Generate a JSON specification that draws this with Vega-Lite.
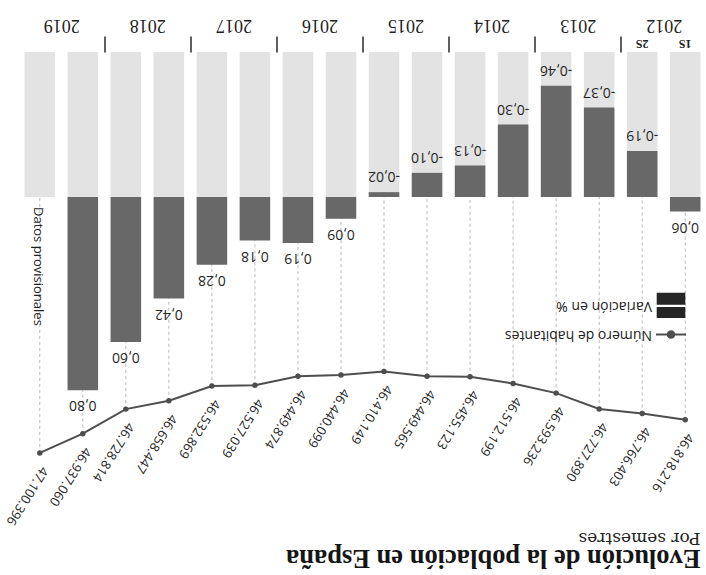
{
  "$schema": "https://vega.github.io/schema/vega-lite/v6.json",
  "width": 676,
  "height": 410,
  "autosize": {"type": "none"},
  "padding": {"left": 24.5, "top": 52, "right": 5.5, "bottom": 113},
  "background": "white",
  "config": {
    "view": {"stroke": null},
    "locale": {"number": {"decimal": ",", "thousands": ".", "grouping": [3], "currency": ["", " €"], "minus": "-"}}
  },
  "title": {
    "text": "Evolución de la población en España",
    "subtitle": "Por semestres",
    "orient": "bottom",
    "anchor": "end",
    "frame": "group",
    "align": "left",
    "angle": 180,
    "offset": 44,
    "font": "Liberation Serif",
    "fontSize": 26.5,
    "fontWeight": "bold",
    "color": "#151515",
    "subtitleFont": "DejaVu Serif",
    "subtitleFontSize": 17,
    "subtitleColor": "#222222",
    "subtitlePadding": -52
  },
  "data": {
    "values": [
      {"sem": "2012-1S", "half": "1S", "pob": 46818216, "var": 0.06, "nota": null},
      {"sem": "2012-2S", "half": "2S", "pob": 46766403, "var": -0.19, "nota": null},
      {"sem": "2013-1S", "half": "1S", "pob": 46727890, "var": -0.37, "nota": null},
      {"sem": "2013-2S", "half": "2S", "pob": 46593236, "var": -0.46, "nota": null},
      {"sem": "2014-1S", "half": "1S", "pob": 46512199, "var": -0.30, "nota": null},
      {"sem": "2014-2S", "half": "2S", "pob": 46455123, "var": -0.13, "nota": null},
      {"sem": "2015-1S", "half": "1S", "pob": 46449565, "var": -0.10, "nota": null},
      {"sem": "2015-2S", "half": "2S", "pob": 46410149, "var": -0.02, "nota": null},
      {"sem": "2016-1S", "half": "1S", "pob": 46440099, "var": 0.09, "nota": null},
      {"sem": "2016-2S", "half": "2S", "pob": 46449874, "var": 0.19, "nota": null},
      {"sem": "2017-1S", "half": "1S", "pob": 46527039, "var": 0.18, "nota": null},
      {"sem": "2017-2S", "half": "2S", "pob": 46532869, "var": 0.28, "nota": null},
      {"sem": "2018-1S", "half": "1S", "pob": 46658447, "var": 0.42, "nota": null},
      {"sem": "2018-2S", "half": "2S", "pob": 46728814, "var": 0.60, "nota": null},
      {"sem": "2019-1S", "half": "1S", "pob": 46937060, "var": 0.80, "nota": null},
      {"sem": "2019-2S", "half": "2S", "pob": 47100396, "var": null, "nota": "Datos provisionales"}
    ]
  },
  "encoding": {
    "x": {
      "field": "sem",
      "type": "nominal",
      "scale": {"type": "band", "reverse": true, "paddingInner": 0.29, "paddingOuter": 0},
      "axis": {
        "orient": "top",
        "title": null,
        "domain": false,
        "grid": false,
        "labelAngle": 180,
        "labelAlign": "center",
        "labelBaseline": "top",
        "labelFont": "Liberation Serif",
        "labelFontSize": 18,
        "labelColor": "#1e1e1e",
        "labelPadding": 3,
        "labelOverlap": false,
        "labelExpr": "indexof(datum.value, '2S') > 0 ? slice(datum.value, 0, 4) : ''",
        "tickOffset": -21.5,
        "labelOffset": 43,
        "tickSize": 16,
        "tickWidth": 1.5,
        "tickColor": "#2a2a2a",
        "tickOpacity": {"condition": {"test": "indexof(datum.value, '1S') > 0 || datum.value === '2019-2S'", "value": 0}, "value": 1}
      }
    }
  },
  "layer": [
    {
      "encoding": {
        "y": {"field": "pob", "type": "quantitative", "scale": {"domain": [43702400, 47177000], "reverse": true, "zero": false}, "axis": null}
      },
      "layer": [
        {
          "mark": {"type": "rule", "strokeDash": [3, 3], "color": "#b8b8b8", "strokeWidth": 1},
          "encoding": {"y2": {"datum": 43702400}}
        }
      ]
    },
    {
      "encoding": {
        "y": {"datum": -0.6, "type": "quantitative", "scale": {"domain": [-0.6, 1.0964], "reverse": true}, "axis": null}
      },
      "layer": [
        {
          "mark": {"type": "bar", "color": "#e3e3e3"},
          "encoding": {"y2": {"datum": 0}}
        },
        {
          "transform": [{"filter": "datum.sem === '2012-1S' || datum.sem === '2012-2S'"}],
          "mark": {"type": "text", "angle": 180, "baseline": "top", "align": "center", "dy": 3, "font": "Liberation Serif", "fontSize": 12, "fontWeight": "bold", "color": "#1e1e1e"},
          "encoding": {"text": {"field": "half", "type": "nominal"}}
        },
        {
          "transform": [{"filter": "datum.nota != null"}],
          "mark": {"type": "text", "angle": 90, "baseline": "middle", "align": "left", "dx": 10, "dy": 2, "font": "Open Sans", "fontSize": 13, "color": "#1e1e1e"},
          "encoding": {"y": {"datum": 0, "type": "quantitative"}, "text": {"field": "nota", "type": "nominal"}}
        }
      ]
    },
    {
      "encoding": {
        "y": {"field": "var", "type": "quantitative", "scale": {"domain": [-0.6, 1.0964], "reverse": true}, "axis": null}
      },
      "layer": [
        {
          "transform": [{"filter": "datum['var'] != null"}],
          "mark": {"type": "bar", "color": "#686868"}
        },
        {
          "transform": [{"filter": "datum['var'] > 0"}],
          "mark": {"type": "text", "angle": 180, "baseline": "bottom", "align": "center", "dy": -8, "font": "Open Sans", "fontSize": 14},
          "encoding": {
            "text": {"field": "var", "type": "quantitative", "format": ".2f"},
            "color": {
              "datum": "Variación en %",
              "type": "nominal",
              "scale": {"domain": ["Variación en %", "Número de habitantes"], "range": ["#262626", "#4e4e4e"]},
              "legend": {
                "orient": "none",
                "legendX": 635.5,
                "legendY": 242.5,
                "title": null,
                "padding": 0,
                "rowPadding": 2,
                "symbolSize": 400,
                "symbolOpacity": 1,
                "labelFont": "Open Sans",
                "labelFontSize": 14,
                "labelColor": "#222222",
                "labelAlign": "left",
                "labelBaseline": "middle",
                "labelOffset": -30,
                "labelLimit": 300,
                "encoding": {
                  "labels": {"angle": {"value": 180}},
                  "symbols": {
                    "shape": {"condition": {"test": "datum.value === 'Número de habitantes'", "value": "M-1.5,0H1.5M0.33,0A0.33,0.33 0 1,1 -0.33,0A0.33,0.33 0 1,1 0.33,0Z"}, "value": "M-1.33,-1.17H1.33V-0.17H-1.33Z M-1.33,0.26H1.33V1.16H-1.33Z"},
                    "stroke": {"condition": {"test": "datum.value === 'Número de habitantes'", "value": "#333333"}, "value": "transparent"},
                    "strokeWidth": {"value": 2},
                    "opacity": {"value": 1}
                  }
                }
              }
            }
          }
        },
        {
          "transform": [{"filter": "datum['var'] < 0"}],
          "mark": {"type": "text", "angle": 180, "baseline": "top", "align": "center", "dy": 9, "font": "Open Sans", "fontSize": 14},
          "encoding": {
            "text": {"field": "var", "type": "quantitative", "format": ".2f"},
            "color": {"datum": "Variación en %", "type": "nominal"}
          }
        }
      ]
    },
    {
      "encoding": {
        "y": {"field": "pob", "type": "quantitative", "scale": {"domain": [43702400, 47177000], "reverse": true, "zero": false}, "axis": null}
      },
      "layer": [
        {
          "mark": {"type": "line", "strokeWidth": 2},
          "encoding": {"color": {"datum": "Número de habitantes", "type": "nominal"}}
        },
        {
          "mark": {"type": "point", "filled": true, "size": 30, "opacity": 1},
          "encoding": {"color": {"datum": "Número de habitantes", "type": "nominal"}}
        },
        {
          "mark": {"type": "text", "angle": 122, "align": "left", "baseline": "middle", "dx": 10, "dy": -12, "font": "Open Sans", "fontSize": 13, "color": "#222222"},
          "encoding": {"text": {"field": "pob", "type": "quantitative", "format": ",d"}}
        }
      ]
    }
  ],
  "resolve": {"scale": {"y": "independent"}}
}
